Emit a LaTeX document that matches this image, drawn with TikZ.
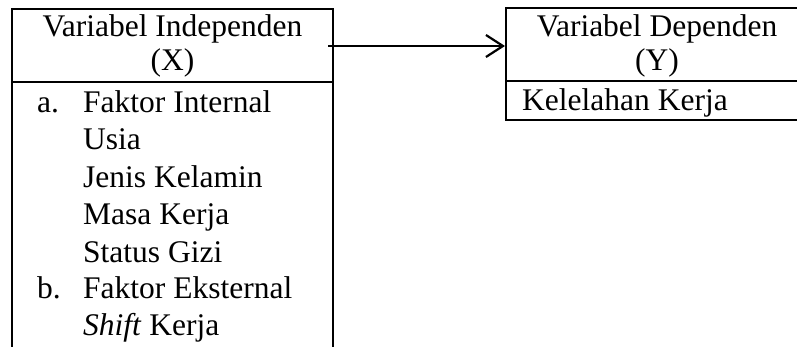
\documentclass[tikz,border=0pt]{standalone}
\usepackage{fontspec}
\setmainfont{Liberation Serif}
\usetikzlibrary{arrows.meta}
\begin{document}
\begin{tikzpicture}[x=1pt,y=1pt,
  lbl/.style={inner sep=0pt,anchor=base west,font=\fontsize{31.5}{37}\selectfont},
  ctr/.style={inner sep=0pt,anchor=base,font=\fontsize{31.5}{37}\selectfont},
  frame/.style={line width=2pt},
  conn/.style={line width=2.2pt,-{Straight Barb[length=17pt,width=22pt,line width=2.2pt]}}]
\useasboundingbox (0,0) rectangle (797,-347);
% left box
\coordinate (xtl) at (12,-9);
\coordinate (xtr) at (333,-9);
\coordinate (xbl) at (12,-349);
\coordinate (xbr) at (333,-349);
\draw[frame] (xbl) -- (xtl) -- (xtr) -- (xbr);
\draw[frame] (12,-82) coordinate (xdl) -- (333,-82) coordinate (xdr);
\node[ctr] (xt1) at (172.5,-37) {Variabel Independen};
\node[ctr] (xt2) at (172.5,-71) {(X)};
\node[lbl] (la) at (37,-113) {a.};
\node[lbl] (l1) at (83,-113) {Faktor Internal};
\node[lbl] (l2) at (83,-150) {Usia};
\node[lbl] (l3) at (83,-188) {Jenis Kelamin};
\node[lbl] (l4) at (83,-225) {Masa Kerja};
\node[lbl] (l5) at (83,-262) {Status Gizi};
\node[lbl] (lb) at (37,-298) {b.};
\node[lbl] (l6) at (83,-298) {Faktor Eksternal};
\node[lbl] (l7) at (83,-335) {\textit{Shift} Kerja};
% right box
\node[draw,frame,inner sep=0pt,minimum width=300pt,minimum height=112pt,anchor=north west] (ybox) at (505,-7) {};
\draw[frame] (505,-81.5) coordinate (ydl) -- (805,-81.5) coordinate (ydr);
\node[ctr] (yt1) at (657,-37) {Variabel Dependen};
\node[ctr] (yt2) at (657,-71) {(Y)};
\node[lbl] (yk) at (522,-110.5) {Kelelahan Kerja};
% arrow
\coordinate (astart) at (328,-46);
\draw[conn] (astart) -- (ybox.west |- astart);
\end{tikzpicture}
\end{document}
